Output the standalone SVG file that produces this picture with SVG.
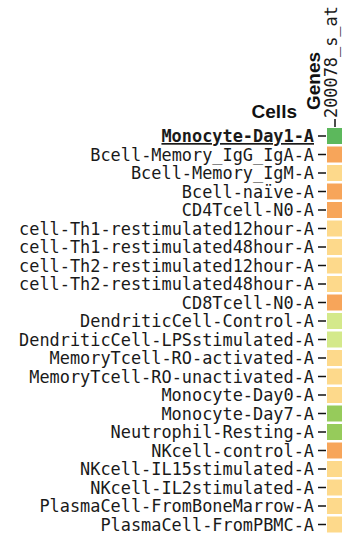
<svg xmlns="http://www.w3.org/2000/svg" width="344" height="536" viewBox="0 0 344 536">
<style>
.lbl{font-family:"DejaVu Sans Mono","Liberation Mono",monospace;font-size:16.9px;fill:#1a1a1a;text-anchor:end}
.hd{font-family:"Liberation Sans",Arial,sans-serif;font-size:19px;font-weight:bold;fill:#111}
.tk{stroke:#111;stroke-width:1.5}
.o{fill:#f7a55a}.y{fill:#fdd98b}.g{fill:#5cb85c}.lg{fill:#d4e98b}.mg{fill:#96cb5b}
</style>
<rect width="344" height="536" fill="#fff"/>
<g id="headers">
<text class="hd" x="297" y="118" text-anchor="end">Cells</text>
<text class="hd" transform="translate(320,110) rotate(-90)">Genes</text>
<text class="lbl" style="text-anchor:start" transform="translate(337,118) rotate(-90)">200078_s_at</text>
</g>
<g id="connectors">
<line class="tk" x1="335" y1="119" x2="335" y2="127"/>
<line class="tk" x1="318" y1="136" x2="326" y2="136"/>
<line class="tk" x1="318" y1="154.5" x2="326" y2="154.5"/>
<line class="tk" x1="318" y1="173" x2="326" y2="173"/>
<line class="tk" x1="318" y1="191.5" x2="326" y2="191.5"/>
<line class="tk" x1="318" y1="210" x2="326" y2="210"/>
<line class="tk" x1="318" y1="228.5" x2="326" y2="228.5"/>
<line class="tk" x1="318" y1="247" x2="326" y2="247"/>
<line class="tk" x1="318" y1="265.5" x2="326" y2="265.5"/>
<line class="tk" x1="318" y1="284" x2="326" y2="284"/>
<line class="tk" x1="318" y1="302.5" x2="326" y2="302.5"/>
<line class="tk" x1="318" y1="321" x2="326" y2="321"/>
<line class="tk" x1="318" y1="339.5" x2="326" y2="339.5"/>
<line class="tk" x1="318" y1="358" x2="326" y2="358"/>
<line class="tk" x1="318" y1="376.5" x2="326" y2="376.5"/>
<line class="tk" x1="318" y1="395" x2="326" y2="395"/>
<line class="tk" x1="318" y1="413.5" x2="326" y2="413.5"/>
<line class="tk" x1="318" y1="432" x2="326" y2="432"/>
<line class="tk" x1="318" y1="450.5" x2="326" y2="450.5"/>
<line class="tk" x1="318" y1="469" x2="326" y2="469"/>
<line class="tk" x1="318" y1="487.5" x2="326" y2="487.5"/>
<line class="tk" x1="318" y1="506" x2="326" y2="506"/>
<line class="tk" x1="318" y1="524.5" x2="326" y2="524.5"/>
</g>
<g id="r0"><text class="lbl" x="314" y="142" font-weight="bold" text-decoration="underline">Monocyte-Day1-A</text><rect class="g" x="327" y="128" width="15" height="16"/></g>
<g id="r1"><text class="lbl" x="314" y="160.5">Bcell-Memory_IgG_IgA-A</text><rect class="o" x="327" y="146.5" width="15" height="16"/></g>
<g id="r2"><text class="lbl" x="314" y="179">Bcell-Memory_IgM-A</text><rect class="y" x="327" y="165" width="15" height="16"/></g>
<g id="r3"><text class="lbl" x="314" y="197.5">Bcell-naïve-A</text><rect class="o" x="327" y="183.5" width="15" height="16"/></g>
<g id="r4"><text class="lbl" x="314" y="216">CD4Tcell-N0-A</text><rect class="o" x="327" y="202" width="15" height="16"/></g>
<g id="r5"><text class="lbl" x="314" y="234.5">cell-Th1-restimulated12hour-A</text><rect class="y" x="327" y="220.5" width="15" height="16"/></g>
<g id="r6"><text class="lbl" x="314" y="253">cell-Th1-restimulated48hour-A</text><rect class="y" x="327" y="239" width="15" height="16"/></g>
<g id="r7"><text class="lbl" x="314" y="271.5">cell-Th2-restimulated12hour-A</text><rect class="y" x="327" y="257.5" width="15" height="16"/></g>
<g id="r8"><text class="lbl" x="314" y="290">cell-Th2-restimulated48hour-A</text><rect class="y" x="327" y="276" width="15" height="16"/></g>
<g id="r9"><text class="lbl" x="314" y="308.5">CD8Tcell-N0-A</text><rect class="o" x="327" y="294.5" width="15" height="16"/></g>
<g id="r10"><text class="lbl" x="314" y="327">DendriticCell-Control-A</text><rect class="lg" x="327" y="313" width="15" height="16"/></g>
<g id="r11"><text class="lbl" x="314" y="345.5">DendriticCell-LPSstimulated-A</text><rect class="lg" x="327" y="331.5" width="15" height="16"/></g>
<g id="r12"><text class="lbl" x="314" y="364">MemoryTcell-RO-activated-A</text><rect class="y" x="327" y="350" width="15" height="16"/></g>
<g id="r13"><text class="lbl" x="314" y="382.5">MemoryTcell-RO-unactivated-A</text><rect class="y" x="327" y="368.5" width="15" height="16"/></g>
<g id="r14"><text class="lbl" x="314" y="401">Monocyte-Day0-A</text><rect class="y" x="327" y="387" width="15" height="16"/></g>
<g id="r15"><text class="lbl" x="314" y="419.5">Monocyte-Day7-A</text><rect class="mg" x="327" y="405.5" width="15" height="16"/></g>
<g id="r16"><text class="lbl" x="314" y="438">Neutrophil-Resting-A</text><rect class="mg" x="327" y="424" width="15" height="16"/></g>
<g id="r17"><text class="lbl" x="314" y="456.5">NKcell-control-A</text><rect class="o" x="327" y="442.5" width="15" height="16"/></g>
<g id="r18"><text class="lbl" x="314" y="475">NKcell-IL15stimulated-A</text><rect class="y" x="327" y="461" width="15" height="16"/></g>
<g id="r19"><text class="lbl" x="314" y="493.5">NKcell-IL2stimulated-A</text><rect class="y" x="327" y="479.5" width="15" height="16"/></g>
<g id="r20"><text class="lbl" x="314" y="512">PlasmaCell-FromBoneMarrow-A</text><rect class="y" x="327" y="498" width="15" height="16"/></g>
<g id="r21"><text class="lbl" x="314" y="530.5">PlasmaCell-FromPBMC-A</text><rect class="y" x="327" y="516.5" width="15" height="16"/></g>
</svg>
